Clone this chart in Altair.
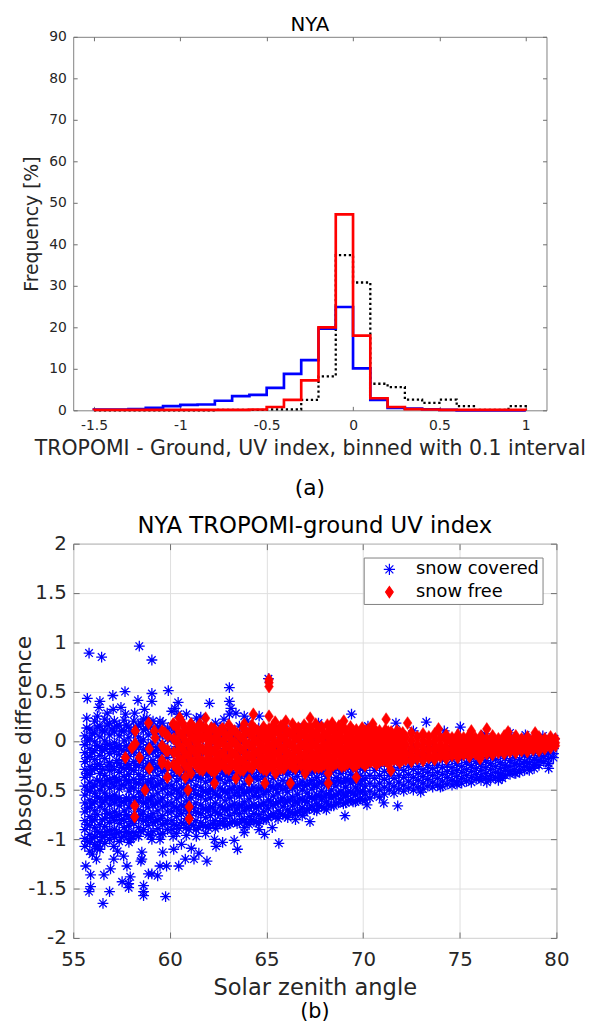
import altair as alt
import pandas as pd

FONT = "DejaVu Sans"
TXT = "#262626"
TICK = "#6e6e6e"

# ---------------- panel (a): histogram, 0.1 bins ----------------
bin_edges = [-1.5, -1.4, -1.3, -1.2, -1.1, -1.0, -0.9, -0.8, -0.7, -0.6, -0.5,
             -0.4, -0.3, -0.2, -0.1, 0.0, 0.1, 0.2, 0.3, 0.4, 0.5, 0.6, 0.7,
             0.8, 0.9, 1.0]
freq_snow_covered = [0.2, 0.2, 0.3, 0.6, 1.0, 1.3, 1.4, 2.3, 3.4, 3.7, 5.4, 8.8,
                     12.1, 19.7, 24.9, 10.1, 2.5, 0.6, 0.4, 0.25, 0.1, 0.0, 0.0,
                     0.0, 0.0]
freq_snow_free = [0.1, 0.1, 0.1, 0.1, 0.1, 0.1, 0.1, 0.1, 0.1, 0.2, 0.8, 2.5,
                  7.2, 20.0, 47.2, 18.0, 2.9, 0.8, 0.3, 0.2, 0.1, 0.1, 0.1,
                  0.1, 0.1]
freq_all = [0.0, 0.0, 0.0, 0.0, 0.0, 0.0, 0.0, 0.1, 0.1, 0.1, 0.2, 0.2, 2.5,
            8.2, 37.4, 30.8, 6.4, 5.6, 2.6, 1.8, 2.6, 1.0, 0.1, 0.1, 1.0]

xa_ticks = [-1.5, -1, -0.5, 0, 0.5, 1]
ya_ticks = [0, 10, 20, 30, 40, 50, 60, 70, 80, 90]

# ---------------- panel (b): scatter ----------------
# snow covered: dense core, as columns (SZA, [differences])
blue_cols_a = [
    (55.60, [0.05, -0.04, -0.12, -0.21, -0.29, -0.37, -0.46, -0.55, -0.63, -0.72, -0.81, -0.90, -0.99, -1.07]),
    (55.86, [0.12, 0.02, -0.08, -0.16, -0.26, -0.34, -0.42, -0.51, -0.60, -0.68, -0.77, -0.86, -0.95, -1.03, -1.12]),
    (56.11, [0.20, 0.08, -0.01, -0.10, -0.19, -0.28, -0.45, -0.53, -0.62, -0.71, -0.80, -0.88, -0.97, -1.05]),
    (56.38, [0.15, 0.04, -0.06, -0.15, -0.24, -0.33, -0.41, -0.50, -0.58, -0.67, -0.85, -0.93, -1.02, -1.10]),
    (56.63, [0.22, 0.10, 0.00, -0.09, -0.18, -0.35, -0.44, -0.53, -0.61, -0.70, -0.79, -0.87, -0.96, -1.04]),
    (56.88, [0.18, 0.06, -0.04, -0.13, -0.22, -0.30, -0.39, -0.48, -0.57, -0.65, -0.74, -0.83, -0.91, -1.00]),
    (57.13, [0.20, 0.09, -0.02, -0.11, -0.29, -0.37, -0.46, -0.55, -0.63, -0.72, -0.81, -0.90, -0.98]),
    (57.38, [0.16, 0.05, -0.05, -0.14, -0.23, -0.32, -0.40, -0.49, -0.58, -0.66, -0.75, -0.84, -0.93, -1.02]),
    (57.63, [0.21, 0.10, 0.00, -0.10, -0.19, -0.28, -0.36, -0.45, -0.62, -0.71, -0.80, -0.88, -0.97]),
    (57.88, [0.14, 0.03, -0.07, -0.16, -0.25, -0.34, -0.42, -0.51, -0.60, -0.68, -0.77, -0.86, -0.94, -1.03]),
    (58.13, [0.20, 0.08, -0.03, -0.12, -0.21, -0.30, -0.39, -0.48, -0.57, -0.66, -0.75, -0.84, -0.93]),
    (58.38, [0.15, 0.04, -0.06, -0.15, -0.25, -0.34, -0.43, -0.52, -0.61, -0.70, -0.79, -0.88, -0.97]),
    (58.63, [0.22, 0.11, 0.01, -0.09, -0.18, -0.27, -0.36, -0.45, -0.54, -0.63, -0.72, -0.81]),
    (58.88, [0.17, 0.06, -0.04, -0.14, -0.23, -0.32, -0.41, -0.50, -0.59, -0.68, -0.77, -0.86, -0.95]),
    (59.13, [0.20, 0.09, -0.02, -0.11, -0.20, -0.29, -0.38, -0.47, -0.56, -0.65, -0.74, -0.83, -0.92]),
    (59.38, [0.14, 0.03, -0.07, -0.16, -0.26, -0.35, -0.44, -0.53, -0.62, -0.71, -0.80, -0.89]),
    (59.63, [0.18, 0.07, -0.03, -0.12, -0.21, -0.31, -0.40, -0.49, -0.58, -0.67, -0.76, -0.85, -0.94]),
    (59.88, [0.12, 0.02, -0.08, -0.17, -0.27, -0.36, -0.45, -0.54, -0.63, -0.72, -0.81, -0.90]),
]
blue_cols_a_mid = [
    (55.73, [0.00, -0.17, -0.33, -0.50, -0.68, -0.85, -1.02]),
    (55.98, [0.07, -0.12, -0.30, -0.47, -0.64, -0.81, -0.99]),
    (56.24, [0.14, -0.05, -0.24, -0.40, -0.57, -0.75, -0.92, -1.09]),
    (56.50, [0.10, -0.10, -0.29, -0.46, -0.63, -0.80, -0.98]),
    (56.75, [0.16, -0.04, -0.26, -0.40, -0.57, -0.74, -0.92]),
    (57.00, [0.12, -0.08, -0.26, -0.43, -0.60, -0.78, -0.95]),
    (57.25, [0.15, -0.06, -0.20, -0.41, -0.59, -0.76, -0.94]),
    (57.50, [0.10, -0.09, -0.27, -0.45, -0.62, -0.80, -0.98]),
    (57.75, [0.16, -0.05, -0.23, -0.40, -0.58, -0.75, -0.92]),
    (58.00, [0.09, -0.11, -0.29, -0.47, -0.64, -0.82, -0.99]),
    (58.25, [0.14, -0.07, -0.25, -0.43, -0.61, -0.79, -0.96]),
    (58.50, [0.18, -0.01, -0.20, -0.39, -0.57, -0.75, -0.92]),
    (58.75, [0.12, -0.09, -0.27, -0.45, -0.63, -0.81]),
    (59.00, [0.15, -0.06, -0.24, -0.42, -0.60, -0.78, -0.96]),
    (59.25, [0.10, -0.10, -0.28, -0.46, -0.64, -0.82]),
    (59.50, [0.13, -0.07, -0.25, -0.43, -0.61, -0.79, -0.95]),
    (59.75, [0.08, -0.12, -0.30, -0.48, -0.66, -0.84]),
]
blue_cols_b = [
    (60.10, [0.15, 0.02, -0.12, -0.25, -0.36, -0.45, -0.54, -0.63, -0.72, -0.81, -0.90]),
    (60.35, [0.08, -0.06, -0.20, -0.32, -0.41, -0.50, -0.59, -0.68, -0.77, -0.86, -0.94]),
    (60.60, [0.18, 0.00, -0.15, -0.28, -0.38, -0.47, -0.56, -0.65, -0.74, -0.83]),
    (60.85, [0.10, -0.08, -0.22, -0.34, -0.43, -0.52, -0.61, -0.70, -0.79, -0.88, -0.96]),
    (61.10, [0.14, -0.02, -0.16, -0.30, -0.40, -0.49, -0.58, -0.67, -0.76, -0.85]),
    (61.35, [0.06, -0.10, -0.24, -0.36, -0.45, -0.54, -0.63, -0.72, -0.81, -0.90]),
    (61.60, [0.16, 0.00, -0.14, -0.28, -0.38, -0.47, -0.56, -0.65, -0.74, -0.83]),
    (61.85, [0.09, -0.07, -0.21, -0.33, -0.42, -0.51, -0.60, -0.69, -0.78, -0.87, -0.94]),
    (62.10, [0.12, -0.04, -0.18, -0.31, -0.40, -0.49, -0.58, -0.67, -0.76, -0.85]),
    (62.35, [0.05, -0.11, -0.25, -0.36, -0.45, -0.54, -0.63, -0.72, -0.81, -0.89]),
    (62.60, [0.14, -0.02, -0.16, -0.29, -0.39, -0.48, -0.57, -0.66, -0.75, -0.84]),
    (62.85, [0.08, -0.08, -0.22, -0.34, -0.43, -0.52, -0.61, -0.70, -0.79, -0.86]),
    (63.10, [0.12, -0.03, -0.17, -0.30, -0.40, -0.49, -0.58, -0.67, -0.76, -0.84]),
    (63.35, [0.04, -0.12, -0.26, -0.37, -0.46, -0.55, -0.64, -0.73, -0.82]),
    (63.60, [0.15, 0.00, -0.14, -0.28, -0.38, -0.47, -0.56, -0.65, -0.74, -0.83]),
    (63.85, [0.07, -0.09, -0.23, -0.35, -0.44, -0.53, -0.62, -0.71, -0.80, -0.88]),
    (64.10, [0.11, -0.04, -0.18, -0.31, -0.41, -0.50, -0.59, -0.68, -0.77, -0.85]),
    (64.35, [0.03, -0.13, -0.27, -0.38, -0.47, -0.56, -0.65, -0.74, -0.82]),
    (64.60, [0.13, -0.01, -0.15, -0.29, -0.39, -0.48, -0.57, -0.66, -0.75, -0.84]),
    (64.85, [0.06, -0.10, -0.24, -0.36, -0.45, -0.54, -0.63, -0.72, -0.80]),
]
blue_cols_b_mid = [
    (60.22, [0.10, -0.30, -0.49, -0.67, -0.85]), (60.48, [-0.10, -0.35, -0.53, -0.71, -0.89]),
    (60.72, [0.05, -0.30, -0.48, -0.66, -0.84]), (60.98, [-0.12, -0.36, -0.54, -0.72, -0.90]),
    (61.22, [0.08, -0.32, -0.50, -0.68, -0.86]), (61.48, [-0.15, -0.37, -0.55, -0.73, -0.88]),
    (61.72, [0.04, -0.33, -0.51, -0.69, -0.86]), (61.98, [-0.10, -0.35, -0.53, -0.71, -0.88]),
    (62.22, [0.06, -0.32, -0.50, -0.68, -0.84]), (62.48, [-0.14, -0.37, -0.55, -0.73, -0.86]),
    (62.72, [0.03, -0.33, -0.50, -0.68, -0.82]), (62.98, [-0.10, -0.36, -0.53, -0.70, -0.85]),
    (63.22, [0.05, -0.32, -0.49, -0.66, -0.82]), (63.48, [-0.13, -0.36, -0.52, -0.69, -0.84]),
    (63.72, [0.02, -0.32, -0.49, -0.66, -0.80]), (63.98, [-0.10, -0.35, -0.52, -0.68, -0.83]),
    (64.22, [0.04, -0.33, -0.50, -0.66, -0.80]), (64.48, [-0.12, -0.36, -0.52, -0.68, -0.82]),
    (64.72, [0.02, -0.32, -0.49, -0.65, -0.79]), (64.98, [-0.10, -0.35, -0.51, -0.66, -0.80]),
]
blue_cols_c = [
    (65.10, [0.10, -0.05, -0.20, -0.33, -0.42, -0.51, -0.60, -0.69, -0.78]),
    (65.35, [0.03, -0.12, -0.27, -0.38, -0.47, -0.56, -0.65, -0.74]),
    (65.60, [0.08, -0.08, -0.22, -0.35, -0.44, -0.53, -0.62, -0.71, -0.79]),
    (65.85, [0.00, -0.15, -0.29, -0.40, -0.49, -0.58, -0.67, -0.75]),
    (66.10, [0.06, -0.10, -0.24, -0.34, -0.43, -0.52, -0.61, -0.70, -0.78]),
    (66.35, [-0.02, -0.17, -0.30, -0.39, -0.48, -0.57, -0.66, -0.74]),
    (66.60, [0.05, -0.11, -0.25, -0.36, -0.45, -0.54, -0.63, -0.72]),
    (66.85, [-0.04, -0.19, -0.31, -0.41, -0.50, -0.59, -0.68, -0.76]),
    (67.10, [0.04, -0.12, -0.26, -0.35, -0.44, -0.53, -0.62, -0.70]),
    (67.35, [-0.05, -0.20, -0.32, -0.40, -0.49, -0.58, -0.66]),
    (67.60, [0.03, -0.13, -0.27, -0.37, -0.46, -0.55, -0.64, -0.71]),
    (67.85, [-0.06, -0.21, -0.33, -0.42, -0.51, -0.60, -0.67]),
    (68.10, [0.02, -0.14, -0.28, -0.36, -0.45, -0.54, -0.62]),
    (68.35, [-0.07, -0.22, -0.32, -0.41, -0.50, -0.58, -0.66]),
    (68.60, [0.01, -0.15, -0.27, -0.37, -0.46, -0.55, -0.63]),
    (68.85, [-0.08, -0.23, -0.33, -0.42, -0.51, -0.59]),
    (69.10, [0.00, -0.16, -0.28, -0.38, -0.47, -0.56, -0.63]),
    (69.35, [-0.09, -0.24, -0.34, -0.43, -0.52, -0.60]),
    (69.60, [0.00, -0.17, -0.29, -0.38, -0.47, -0.55, -0.62]),
    (69.85, [-0.10, -0.25, -0.35, -0.44, -0.52, -0.59]),
]
blue_cols_c_mid = [
    (65.22, [-0.30, -0.46, -0.62, -0.76]), (65.48, [-0.33, -0.49, -0.64, -0.77]),
    (65.72, [-0.30, -0.46, -0.61, -0.74]), (65.98, [-0.32, -0.48, -0.63, -0.76]),
    (66.22, [-0.30, -0.45, -0.60, -0.73]), (66.48, [-0.32, -0.47, -0.62, -0.74]),
    (66.72, [-0.29, -0.44, -0.59, -0.71]), (66.98, [-0.31, -0.46, -0.61, -0.73]),
    (67.22, [-0.29, -0.43, -0.57, -0.69]), (67.48, [-0.31, -0.45, -0.59, -0.70]),
    (67.72, [-0.28, -0.42, -0.56, -0.67]), (67.98, [-0.30, -0.44, -0.57, -0.68]),
    (68.22, [-0.28, -0.41, -0.54, -0.65]), (68.48, [-0.30, -0.43, -0.56, -0.66]),
    (68.72, [-0.27, -0.40, -0.53, -0.63]), (68.98, [-0.29, -0.42, -0.54, -0.64]),
    (69.22, [-0.27, -0.40, -0.52, -0.61]), (69.48, [-0.29, -0.41, -0.53, -0.62]),
    (69.72, [-0.26, -0.39, -0.50, -0.60]), (69.98, [-0.28, -0.40, -0.51, -0.60]),
]
blue_cols_d = [
    (70.10, [-0.02, -0.18, -0.30, -0.38, -0.46, -0.54, -0.60]),
    (70.35, [-0.10, -0.25, -0.35, -0.43, -0.51, -0.58]),
    (70.60, [-0.03, -0.19, -0.30, -0.38, -0.46, -0.54]),
    (70.85, [-0.11, -0.26, -0.35, -0.43, -0.50, -0.57]),
    (71.10, [-0.04, -0.20, -0.31, -0.39, -0.47, -0.54]),
    (71.35, [-0.12, -0.26, -0.35, -0.43, -0.50]),
    (71.60, [-0.05, -0.20, -0.30, -0.38, -0.46, -0.53]),
    (71.85, [-0.13, -0.27, -0.35, -0.42, -0.49]),
    (72.10, [-0.05, -0.20, -0.30, -0.37, -0.45, -0.51]),
    (72.35, [-0.13, -0.26, -0.34, -0.41, -0.48]),
    (72.60, [-0.06, -0.20, -0.29, -0.37, -0.44, -0.50]),
    (72.85, [-0.13, -0.26, -0.33, -0.40, -0.47]),
    (73.10, [-0.06, -0.20, -0.29, -0.36, -0.43, -0.49]),
    (73.35, [-0.14, -0.25, -0.32, -0.39, -0.46]),
    (73.60, [-0.07, -0.20, -0.28, -0.35, -0.42, -0.47]),
    (73.85, [-0.14, -0.25, -0.32, -0.38, -0.45]),
    (74.10, [-0.07, -0.19, -0.27, -0.34, -0.41, -0.46]),
    (74.35, [-0.14, -0.24, -0.31, -0.37, -0.44]),
    (74.60, [-0.08, -0.19, -0.27, -0.33, -0.40, -0.45]),
    (74.85, [-0.14, -0.23, -0.30, -0.36, -0.42]),
    (75.10, [-0.08, -0.18, -0.26, -0.32, -0.38, -0.43]),
    (75.35, [-0.13, -0.22, -0.29, -0.35, -0.41]),
    (75.60, [-0.08, -0.18, -0.25, -0.31, -0.37, -0.42]),
    (75.85, [-0.13, -0.21, -0.28, -0.34, -0.39]),
    (76.10, [-0.07, -0.17, -0.24, -0.30, -0.36, -0.40]),
    (76.35, [-0.12, -0.20, -0.27, -0.33, -0.38]),
    (76.60, [-0.07, -0.16, -0.23, -0.29, -0.35, -0.39]),
    (76.85, [-0.11, -0.19, -0.26, -0.32, -0.37]),
    (77.10, [-0.06, -0.15, -0.22, -0.28, -0.33, -0.37]),
    (77.35, [-0.10, -0.18, -0.25, -0.30, -0.35]),
    (77.60, [-0.05, -0.13, -0.20, -0.26, -0.31, -0.34]),
    (77.85, [-0.09, -0.17, -0.23, -0.29, -0.33]),
    (78.10, [-0.04, -0.12, -0.19, -0.24, -0.29, -0.32]),
    (78.35, [-0.08, -0.15, -0.21, -0.26, -0.30]),
    (78.60, [-0.03, -0.10, -0.17, -0.22, -0.27]),
    (78.85, [-0.07, -0.13, -0.19, -0.24, -0.28]),
    (79.10, [-0.02, -0.09, -0.15, -0.20, -0.25]),
    (79.35, [-0.05, -0.11, -0.16, -0.21]),
    (79.60, [-0.01, -0.07, -0.13, -0.18, -0.23]),
    (79.85, [-0.03, -0.08, -0.13, -0.17]),
]
blue_upper = [
    (55.82, 0.89), (56.47, 0.85), (58.42, 0.96), (59.07, 0.82), (55.73, 0.43),
    (57.05, 0.46), (57.68, 0.50), (58.35, 0.41), (59.07, 0.48), (59.07, 0.40),
    (59.92, 0.51), (60.43, 0.39), (60.26, 0.33), (62.05, 0.38), (63.08, 0.54),
    (63.08, 0.40), (63.16, 0.33), (65.10, 0.63), (56.38, 0.40), (56.33, 0.34),
    (55.70, 0.23), (55.70, 0.13), (56.25, 0.25), (56.76, 0.28), (57.07, 0.32),
    (57.47, 0.34), (57.70, 0.27), (58.18, 0.28), (58.69, 0.32), (58.81, 0.23),
    (59.49, 0.20), (60.43, 0.27), (60.86, 0.27), (61.37, 0.23), (62.36, 0.18),
    (63.08, 0.27), (63.42, 0.28), (63.85, 0.25), (64.62, 0.25), (65.90, 0.15),
    (66.58, 0.08), (65.47, 0.13), (67.69, 0.18), (69.40, 0.27), (70.25, 0.15),
    (71.70, 0.18), (73.27, 0.19), (75.03, 0.14), (68.60, 0.12), (72.60, 0.10),
    (74.20, 0.10), (76.30, 0.07), (77.60, 0.08), (78.40, 0.06), (79.30, 0.05),
    (79.90, 0.02), (60.10, 0.30), (61.60, 0.24), (62.80, 0.22), (64.00, 0.20),
    (66.90, 0.14),
]
blue_lower = [
    (56.54, -1.65), (59.78, -1.58), (55.82, -1.53), (55.90, -1.48), (56.88, -1.53),
    (57.87, -1.49), (58.64, -1.53), (58.64, -1.47), (55.65, -1.27), (55.90, -1.36),
    (56.59, -1.36), (57.78, -1.27), (58.50, -1.22), (58.89, -1.35), (59.37, -1.37),
    (59.83, -1.27), (60.46, -1.27), (60.80, -1.20), (61.25, -1.20), (61.92, -1.22),
    (61.50, -1.14), (61.11, -1.09), (59.63, -1.13), (56.93, -1.30), (57.10, -1.20),
    (57.61, -1.17), (57.95, -1.38), (57.53, -1.43), (57.87, -1.45), (58.55, -1.20),
    (58.55, -1.13), (59.07, -1.35), (59.49, -1.27), (58.64, -1.57), (55.99, -1.15),
    (56.25, -1.07), (57.10, -1.07), (57.95, -1.00), (58.64, -0.90), (59.07, -1.00),
    (59.49, -1.00), (60.17, -0.97), (60.60, -1.05), (61.37, -0.97), (62.31, -1.00),
    (62.73, -1.03), (64.62, -0.90), (63.85, -0.93), (63.50, -1.10), (65.64, -1.04),
    (62.39, -1.07), (63.33, -1.01), (66.50, -0.80), (67.25, -0.82), (69.06, -0.76),
    (71.07, -0.63), (71.79, -0.66), (72.98, -0.52), (74.00, -0.47), (74.86, -0.44),
    (77.00, -0.40), (76.40, -0.42), (77.20, -0.38), (78.60, -0.30), (77.90, -0.33),
    (79.60, -0.28), (56.20, -1.20), (57.30, -1.12), (60.20, -1.10), (64.90, -0.95),
    (65.30, -0.88), (68.10, -0.70), (70.20, -0.65),
]

# snow free: dense band as columns, plus scattered points
red_cols = [
    (59.6, [0.10, -0.05, -0.20]), (59.9, [0.05, -0.10, -0.25]),
    (60.2, [0.17, 0.02, -0.12, -0.24]), (60.5, [0.23, 0.08, -0.05, -0.18, -0.30]),
    (60.8, [0.12, 0.00, -0.13, -0.25]), (61.1, [0.17, 0.05, -0.08, -0.20, -0.33]),
    (61.4, [0.10, -0.02, -0.14, -0.26]), (61.7, [0.13, 0.03, -0.09, -0.21, -0.30]),
    (62.0, [0.08, -0.04, -0.16, -0.27]), (62.3, [0.12, 0.01, -0.11, -0.22, -0.32]),
    (62.6, [0.10, -0.02, -0.14, -0.25]), (62.9, [0.06, -0.06, -0.18, -0.28]),
    (63.2, [0.11, 0.00, -0.12, -0.23]), (63.5, [0.07, -0.05, -0.17, -0.28]),
    (63.8, [0.13, 0.02, -0.10, -0.21, -0.30]), (64.1, [0.08, -0.04, -0.15, -0.26]),
    (64.4, [0.12, 0.01, -0.11, -0.22]), (64.7, [0.07, -0.05, -0.16, -0.27]),
    (65.0, [0.10, 0.00, -0.11, -0.22, -0.30]), (65.3, [0.14, 0.04, -0.07, -0.18, -0.27]),
    (65.6, [0.09, -0.02, -0.13, -0.23]), (65.9, [0.13, 0.03, -0.08, -0.19, -0.28]),
    (66.2, [0.08, -0.03, -0.14, -0.24]), (66.5, [0.12, 0.02, -0.09, -0.20, -0.28]),
    (66.8, [0.07, -0.04, -0.15, -0.25]), (67.1, [0.12, 0.02, -0.09, -0.19, -0.27]),
    (67.4, [0.08, -0.03, -0.14, -0.23]), (67.7, [0.12, 0.02, -0.09, -0.19, -0.27]),
    (68.0, [0.07, -0.04, -0.14, -0.24]), (68.3, [0.11, 0.01, -0.09, -0.19, -0.27]),
    (68.6, [0.07, -0.03, -0.13, -0.23]), (68.9, [0.11, 0.01, -0.09, -0.18, -0.26]),
    (69.2, [0.06, -0.04, -0.14, -0.23]), (69.5, [0.10, 0.00, -0.09, -0.18, -0.26]),
    (69.8, [0.06, -0.04, -0.13, -0.22]), (70.1, [0.10, 0.00, -0.09, -0.18, -0.25]),
    (70.4, [0.06, -0.03, -0.12, -0.21]), (70.7, [0.09, 0.00, -0.09, -0.17, -0.24]),
    (71.0, [0.05, -0.04, -0.12, -0.20]), (71.3, [0.09, 0.00, -0.08, -0.16, -0.23]),
    (71.6, [0.05, -0.03, -0.11, -0.19]), (71.9, [0.08, 0.00, -0.08, -0.16, -0.22]),
    (72.2, [0.04, -0.04, -0.12, -0.19]), (72.5, [0.08, 0.00, -0.08, -0.15, -0.21]),
    (72.8, [0.04, -0.04, -0.11, -0.18]), (73.1, [0.07, 0.00, -0.07, -0.14, -0.20]),
    (73.4, [0.04, -0.03, -0.10, -0.17]), (73.7, [0.07, 0.00, -0.07, -0.14, -0.19]),
    (74.0, [0.03, -0.04, -0.10, -0.16]), (74.3, [0.06, 0.00, -0.07, -0.13, -0.18]),
    (74.6, [0.03, -0.03, -0.09, -0.15]), (74.9, [0.06, 0.00, -0.06, -0.12, -0.17]),
    (75.2, [0.03, -0.03, -0.09, -0.14]), (75.5, [0.06, 0.00, -0.06, -0.11, -0.16]),
    (75.8, [0.03, -0.03, -0.08, -0.13]), (76.1, [0.05, 0.00, -0.05, -0.10, -0.15]),
    (76.4, [0.02, -0.03, -0.08, -0.13]), (76.7, [0.05, 0.00, -0.05, -0.10, -0.14]),
    (77.0, [0.02, -0.03, -0.08, -0.12]), (77.3, [0.05, 0.00, -0.05, -0.09, -0.13]),
    (77.6, [0.02, -0.03, -0.07, -0.11]), (77.9, [0.05, 0.00, -0.04, -0.09, -0.12]),
    (78.2, [0.02, -0.02, -0.06, -0.10]), (78.5, [0.04, 0.00, -0.04, -0.08, -0.11]),
    (78.8, [0.02, -0.02, -0.06, -0.09]), (79.1, [0.04, 0.00, -0.04, -0.07, -0.10]),
    (79.4, [0.02, -0.02, -0.05, -0.08]), (79.7, [0.04, 0.00, -0.03, -0.07]),
    (79.95, [0.02, -0.02, -0.05]),
]
red_cols_mid = [
    (60.35, [0.14, 0.00, -0.12, -0.24]), (60.65, [0.18, 0.05, -0.08, -0.20]),
    (60.95, [0.10, -0.03, -0.15, -0.27]), (61.25, [0.13, 0.02, -0.10, -0.22]),
    (61.55, [0.17, 0.05, -0.07, -0.19, -0.29]), (61.85, [0.04, -0.10, -0.22]),
    (62.15, [0.13, 0.02, -0.10, -0.21, -0.30]), (62.45, [0.06, -0.06, -0.18, -0.28]),
    (62.75, [0.12, 0.00, -0.12, -0.23]), (63.05, [0.16, 0.05, -0.06, -0.18, -0.29]),
    (63.35, [0.10, -0.02, -0.13, -0.24]), (63.65, [0.04, -0.08, -0.20, -0.30]),
    (63.95, [0.09, -0.03, -0.15, -0.25]), (64.25, [0.16, 0.05, -0.06, -0.17, -0.28]),
    (64.55, [0.10, -0.01, -0.12, -0.23]), (64.85, [0.14, 0.03, -0.08, -0.19, -0.29]),
    (65.15, [0.06, -0.05, -0.15, -0.25]), (65.45, [0.19, 0.10, -0.02, -0.13, -0.23]),
    (65.75, [0.15, 0.04, -0.07, -0.18, -0.28]), (66.05, [0.10, -0.01, -0.12, -0.22]),
    (66.35, [0.17, 0.06, -0.05, -0.16, -0.26]), (66.65, [0.13, 0.03, -0.08, -0.18]),
    (66.95, [0.16, 0.06, -0.04, -0.14, -0.24]), (67.25, [0.14, 0.04, -0.06, -0.17, -0.26]),
    (67.55, [0.17, 0.06, -0.05, -0.15, -0.24]), (67.85, [0.14, 0.03, -0.07, -0.17, -0.26]),
    (68.15, [0.16, 0.05, -0.05, -0.15, -0.24]), (68.45, [0.13, 0.03, -0.07, -0.17, -0.25]),
    (68.75, [0.15, 0.05, -0.05, -0.14, -0.23]), (69.05, [0.12, 0.02, -0.08, -0.17, -0.25]),
    (69.35, [0.14, 0.04, -0.05, -0.14, -0.22]), (69.65, [0.11, 0.02, -0.08, -0.17, -0.25]),
    (69.95, [0.13, 0.04, -0.05, -0.14, -0.22]), (70.25, [0.11, 0.02, -0.07, -0.15, -0.22]),
    (70.55, [0.12, 0.04, -0.05, -0.13, -0.21]), (70.85, [0.10, 0.02, -0.06, -0.14, -0.21]),
    (71.15, [0.11, 0.03, -0.05, -0.13, -0.20]), (71.45, [0.09, 0.01, -0.06, -0.14, -0.20]),
    (71.75, [0.10, 0.03, -0.05, -0.12, -0.19]), (72.05, [0.08, 0.01, -0.06, -0.13, -0.19]),
]
red_scatter = [
    (57.70, -0.17), (58.04, -0.07), (58.21, 0.10), (58.21, -0.03), (58.18, -0.66),
    (58.18, -0.77), (58.43, -0.17), (58.72, -0.50), (58.90, 0.18), (58.94, -0.08),
    (58.94, -0.28), (59.24, 0.03), (59.20, 0.10), (59.75, 0.08), (59.80, -0.10),
    (59.87, -0.37), (59.60, -0.23), (60.17, 0.17), (60.51, 0.23), (60.35, -0.28),
    (60.80, -0.37), (60.94, -0.50), (61.00, -0.67), (61.00, -0.79), (61.08, 0.17),
    (61.85, 0.23), (61.85, 0.13), (62.31, -0.43), (62.70, 0.12), (63.42, -0.38),
    (63.85, 0.17), (64.32, 0.27), (64.10, -0.40), (64.92, -0.43), (65.13, 0.25),
    (65.13, 0.12), (65.13, 0.55), (65.13, 0.59), (65.13, 0.62), (66.24, -0.43),
    (65.47, -0.33), (67.00, -0.33), (67.26, 0.23), (67.52, -0.27), (68.20, -0.33),
    (68.20, -0.43), (69.65, -0.37), (71.19, 0.22), (71.44, -0.30), (72.30, 0.18),
    (76.05, -0.18), (76.40, 0.12), (69.00, 0.20), (70.50, 0.17), (73.90, 0.12),
    (75.60, 0.10), (77.50, 0.09), (78.90, 0.08), (66.00, 0.20), (68.40, 0.18),
]

xb_ticks = [55, 60, 65, 70, 75, 80]
yb_ticks = [-2, -1.5, -1, -0.5, 0, 0.5, 1, 1.5, 2]
conditions = ["snow covered", "snow free"]
AST = "M-1,0L1,0M0,-1L0,1M-0.7,-0.7L0.7,0.7M-0.7,0.7L0.7,-0.7"
DIA = "M0,-1L0.68,0L0,1L-0.68,0Z"

# ---------------- build tables ----------------
def stairs(freqs):
    rows = [{"x": bin_edges[0], "y": 0.0, "i": 0}]
    for k, f in enumerate(freqs):
        rows.append({"x": bin_edges[k], "y": f, "i": k + 1})
    rows.append({"x": bin_edges[-1], "y": freqs[-1], "i": len(freqs) + 1})
    rows.append({"x": bin_edges[-1], "y": 0.0, "i": len(freqs) + 2})
    return pd.DataFrame(rows)


def expand(cols, pts, cond):
    rows = []
    for x, ys in cols:
        for y in ys:
            rows.append({"sza": x, "diff": y, "cond": cond})
    for x, y in pts:
        rows.append({"sza": x, "diff": y, "cond": cond})
    return rows


blue_df = pd.DataFrame(
    expand(blue_cols_a + blue_cols_a_mid + blue_cols_b + blue_cols_b_mid
           + blue_cols_c + blue_cols_c_mid + blue_cols_d,
           blue_upper + blue_lower, conditions[0]))
red_df = pd.DataFrame(expand(red_cols + red_cols_mid, red_scatter, conditions[1]))


def tick_axis(vals, orient, offset, size):
    return alt.Axis(values=vals, orient=orient, offset=offset, labels=False,
                    ticks=True, tickSize=size, tickColor=TICK, tickWidth=1,
                    domain=False, grid=False, title=None)


# ---------------- panel (a) ----------------
WA, HA = 479, 378
xa = alt.Scale(domain=[-1.62, 1.12], nice=False, zero=False)
ya = alt.Scale(domain=[0, 90], nice=False, zero=False)

ax_xa = alt.Axis(values=xa_ticks, labelExpr="toString(datum.value)", labelFontSize=14,
                 labelPadding=8, labelColor=TXT, labelFlush=False, labelOverlap=False,
                 ticks=False, tickSize=0, domain=False, grid=False,
                 title="TROPOMI - Ground, UV index, binned with 0.1 interval",
                 titleFontSize=20.7, titleFontWeight="normal", titleColor=TXT, titlePadding=7)
ax_ya = alt.Axis(values=ya_ticks, labelExpr="toString(datum.value)", labelFontSize=14,
                 labelPadding=7, labelColor=TXT, labelFlush=False, labelOverlap=False,
                 ticks=False, tickSize=0, domain=False, grid=False,
                 title="Frequency [%]", titleFontSize=19, titleFontWeight="normal",
                 titleColor=TXT, titlePadding=7)

line_all = alt.Chart(stairs(freq_all)).mark_line(
    interpolate="step-after", color="black", strokeWidth=2.3, strokeDash=[2.3, 2.7],
    strokeJoin="miter", strokeCap="butt").encode(
    x=alt.X("x:Q", scale=xa, axis=ax_xa),
    y=alt.Y("y:Q", scale=ya, axis=ax_ya),
    order=alt.Order("i:Q"))
line_cov = alt.Chart(stairs(freq_snow_covered)).mark_line(
    interpolate="step-after", color="#0000ff", strokeWidth=2.7, strokeJoin="miter").encode(
    x=alt.X("x:Q", scale=xa, axis=tick_axis(xa_ticks, "bottom", -HA, 4)),
    y=alt.Y("y:Q", scale=ya, axis=tick_axis(ya_ticks, "left", -WA, 4)),
    order=alt.Order("i:Q"))
line_free = alt.Chart(stairs(freq_snow_free)).mark_line(
    interpolate="step-after", color="#ff0000", strokeWidth=2.7, strokeJoin="miter").encode(
    x=alt.X("x:Q", scale=xa, axis=tick_axis(xa_ticks, "top", -HA, 4)),
    y=alt.Y("y:Q", scale=ya, axis=tick_axis(ya_ticks, "right", -WA, 4)),
    order=alt.Order("i:Q"))
label_a = alt.Chart(pd.DataFrame({"t": ["(a)"]})).mark_text(
    font=FONT, fontSize=22, color="black", align="center", baseline="middle").encode(
    text="t:N", x=alt.value(WA / 2), y=alt.value(HA + 79))

panel_a = alt.layer(line_all, line_cov, line_free, label_a).resolve_axis(
    x="independent", y="independent").properties(
    width=WA, height=HA,
    title=alt.TitleParams(text="NYA", font=FONT, fontSize=20, fontWeight="normal",
                          color="black", offset=-5.5, anchor="middle"))

# ---------------- panel (b) ----------------
WB, HB = 489, 399
xb = alt.Scale(domain=[55, 80], nice=False, zero=False)
yb = alt.Scale(domain=[-2, 2], nice=False, zero=False)

ax_xb = alt.Axis(values=xb_ticks, labelExpr="toString(datum.value)", labelFontSize=20,
                 labelPadding=12, labelColor=TXT, labelFlush=False, labelOverlap=False,
                 ticks=False, tickSize=0, domain=False, grid=True, gridColor="#dedede",
                 gridWidth=1, title="Solar zenith angle", titleFontSize=22.8,
                 titleFontWeight="normal", titleColor=TXT, titlePadding=7)
ax_yb = alt.Axis(values=yb_ticks, labelExpr="toString(datum.value)", labelFontSize=20,
                 labelPadding=7, labelColor=TXT, labelFlush=False, labelOverlap=False,
                 ticks=False, tickSize=0, domain=False, grid=True, gridColor="#dedede",
                 gridWidth=1, title="Absolute difference", titleFontSize=22,
                 titleFontWeight="normal", titleColor=TXT, titleX=-38)

leg = alt.Legend(title=None, orient="top-right", offset=14, fillColor="white",
                 strokeColor="#808080", padding=3, labelFont=FONT, labelFontSize=18,
                 labelColor="black", symbolSize=130, symbolStrokeWidth=1.2,
                 symbolOffset=14, labelOffset=18, rowPadding=5)
fill_enc = alt.Fill("cond:N", scale=alt.Scale(domain=conditions, range=["#0000ff", "#ff0000"]), legend=leg)
stroke_enc = alt.Stroke("cond:N", scale=alt.Scale(domain=conditions, range=["#0000ff", "#ff0000"]), legend=leg)
shape_enc = alt.Shape("cond:N", scale=alt.Scale(domain=conditions, range=[AST, DIA]), legend=leg)

pts_cov = alt.Chart(blue_df).mark_point(filled=True, size=120, strokeWidth=1.3, opacity=1).encode(
    x=alt.X("sza:Q", scale=xb, axis=ax_xb),
    y=alt.Y("diff:Q", scale=yb, axis=ax_yb),
    fill=fill_enc, stroke=stroke_enc, shape=shape_enc)
pts_free = alt.Chart(red_df).mark_point(filled=True, size=169, strokeWidth=0.5, opacity=1).encode(
    x=alt.X("sza:Q", scale=xb, axis=tick_axis(xb_ticks, "bottom", -HB, 6)),
    y=alt.Y("diff:Q", scale=yb, axis=tick_axis(yb_ticks, "left", -WB, 6)),
    fill=fill_enc, stroke=stroke_enc, shape=shape_enc)
ticks_b = alt.Chart(red_df).mark_point(opacity=0).encode(
    x=alt.X("sza:Q", scale=xb, axis=tick_axis(xb_ticks, "top", -HB, 6)),
    y=alt.Y("diff:Q", scale=yb, axis=tick_axis(yb_ticks, "right", -WB, 6)))
label_b = alt.Chart(pd.DataFrame({"t": ["(b)"]})).mark_text(
    font=FONT, fontSize=21, color="black", align="center", baseline="middle").encode(
    text="t:N", x=alt.value(WB / 2), y=alt.value(HB + 75))

panel_b = alt.layer(pts_cov, pts_free, ticks_b, label_b).resolve_axis(
    x="independent", y="independent").properties(
    width=WB, height=HB,
    title=alt.TitleParams(text="NYA TROPOMI-ground UV index", font=FONT, fontSize=23,
                          fontWeight="normal", color="black", offset=-4, anchor="middle"))

chart = alt.vconcat(panel_a, panel_b, spacing=135, bounds="flush").resolve_legend(
    fill="independent", stroke="independent", shape="independent").properties(
    padding={"left": 4, "top": 1, "right": 2, "bottom": 1},
    background="white",
).configure_view(stroke="#808080", strokeWidth=1).configure_axis(
    labelFont=FONT, titleFont=FONT).configure_legend(labelFont=FONT).configure_title(font=FONT)

chart.save("out.html", embed_options={"renderer": "svg", "actions": False})
